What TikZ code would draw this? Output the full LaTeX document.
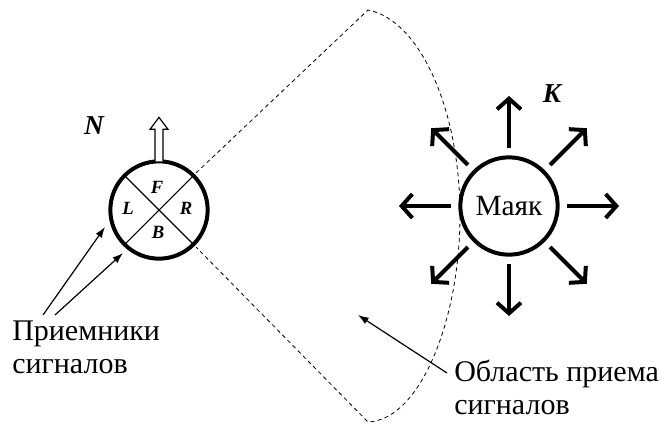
\documentclass[tikz,border=0pt]{standalone}
\usepackage{fontspec}
\setmainfont{Liberation Serif}
\usetikzlibrary{arrows.meta,calc}
\begin{document}
\begin{tikzpicture}[x=0.75pt,y=-0.75pt,
  ring/.style={circle,draw,line width=3pt,minimum size=73pt,inner sep=0pt,outer sep=0pt},
  ray/.style={line width=3pt,-{Straight Barb[length=8pt,width=18pt]}},
  ptr/.style={line width=0.9pt,-{Latex[length=8pt,width=5.5pt]}},
  zone/.style={line width=0.6pt,dash pattern=on 3pt off 2.5pt},
  lbl/.style={font=\fontsize{22.5}{24.75}\selectfont, inner sep=0pt, align=left, anchor=north west},
  seg/.style={font=\bfseries\itshape\fontsize{14}{16}\selectfont, inner sep=0pt},
  pole/.style={font=\bfseries\itshape\fontsize{20.5}{24}\selectfont, inner sep=0pt},
  cross/.style={line width=0.8pt},
  hollow/.style={line width=0.9pt, fill=white},
]
\useasboundingbox (0,0) rectangle (661,425);
% receiver
\node[ring] (rec) at (159,210) {};
\draw[cross] (rec.135) -- (rec.-45);
\draw[cross] (rec.45) -- (rec.-135);
\node[seg] (sf) at ($(rec.center)+(-2,-23)$) {F};
\node[seg] (sl) at ($(rec.center)+(-31,-2)$) {L};
\node[seg] (sr) at ($(rec.center)+(27,-2)$) {R};
\node[seg] (sb) at ($(rec.center)+(-1,22)$) {B};
\draw[hollow] ($(rec.north)+(-4,0)$) -- ++(0,-32) -- ++(-5,0) -- ++(9,-12) -- ++(9,12) -- ++(-5,0) -- ++(0,32);
\node[pole] (N) at (94,126) {N};
% beacon
\node[ring,font=\fontsize{22}{24}\selectfont] (bea) at (509,206) {Маяк};
\foreach \a in {0,45,...,315}
  \draw[ray] ($(bea.center)+({58*cos(\a)},{-58*sin(\a)})$) -- ($(bea.center)+({110*cos(\a)},{-110*sin(\a)})$);
\node[pole] (K) at (552,94) {K};
% reception zone
\coordinate (za) at (368,10);
\coordinate (zm) at (460,215);
\coordinate (zb) at (368,422);
\draw[zone] ($(rec.center)!1.08!(rec.45)$) -- (za) .. controls (420,20) and (460,110) .. (zm)
  .. controls (460,320) and (420,420) .. (zb) -- ($(rec.center)!1.08!(rec.-45)$);
% labels and pointers
\node[lbl] (recv) at (12,321) {Приемники\\сигналов};
\coordinate (p1) at (43,315);
\coordinate (p2) at (55,315);
\coordinate (t1) at ($(rec.center)+(-54,17)$);
\coordinate (t2) at ($(rec.center)+(-36,43)$);
\draw[ptr] (p1) -- (t1);
\draw[ptr] (p2) -- (t2);
\node[lbl] (zonetxt) at (454,360) {Область приема\\сигналов};
\coordinate (z1) at (447,373);
\coordinate (z2) at (358,315);
\draw[ptr] (z1) -- (z2);
\end{tikzpicture}
\end{document}
